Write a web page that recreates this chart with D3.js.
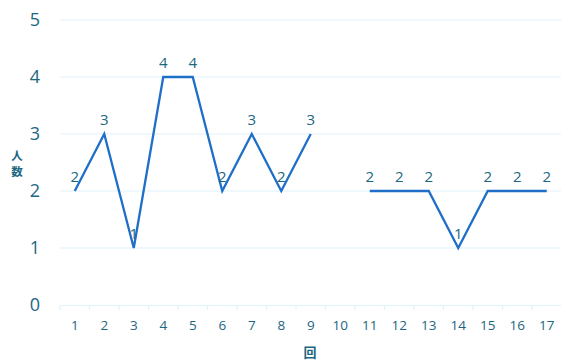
<!DOCTYPE html>
<html><head><meta charset="utf-8">
<script src="https://cdn.jsdelivr.net/npm/d3@7"></script>
<style>body{margin:0;background:#fff}svg{display:block}</style>
</head><body>
<svg id="c" width="561" height="360"></svg>
<script>
const categories = ["1","2","3","4","5","6","7","8","9","10","11","12","13","14","15","16","17"];
const values = [2,3,1,4,4,2,3,2,3,null,2,2,2,1,2,2,2];
const yTicks = [0,1,2,3,4,5];
const xTitle = "回";
const yTitle = ["人","数"];

const W=561,H=360,m={l:60,r:1,t:20,b:55};
const svg=d3.select("#c");
const font="'Open Sans','Noto Sans CJK JP',sans-serif";
const cjk="'Noto Sans CJK JP',sans-serif";
const textCol="#1c6680", lineCol="#1f6fc8", gridCol="#dff3fb";
const x=d3.scaleBand().domain(categories).range([m.l,561.5]);
const y=d3.scaleLinear().domain([0,5]).range([305,20]);

// grid
svg.append("g").selectAll("line").data(yTicks.filter(d=>d>0)).join("line")
 .attr("x1",m.l).attr("x2",W).attr("y1",d=>y(d)).attr("y2",d=>y(d))
 .attr("stroke",gridCol).attr("stroke-width",1.2);

// y axis
const ya=svg.append("g").attr("transform",`translate(${m.l},0)`)
 .call(d3.axisLeft(y).tickValues(yTicks).tickFormat(d3.format("d")).tickSize(0).tickPadding(20));
ya.select(".domain").remove();
ya.selectAll("text").attr("fill",textCol).attr("font-size",18).attr("font-family",font);

// x axis
const xa=svg.append("g").attr("transform",`translate(0,305)`)
 .call(d3.axisBottom(x).tickSize(0).tickPadding(15));
xa.select(".domain").attr("stroke",gridCol).attr("stroke-width",1.2);
xa.selectAll("text").attr("fill",textCol).attr("font-size",13.5).attr("font-family",font);
svg.append("g").selectAll("line").data(d3.range(categories.length+1)).join("line")
 .attr("x1",i=>m.l+i*x.step()).attr("x2",i=>m.l+i*x.step())
 .attr("y1",305).attr("y2",310).attr("stroke",gridCol).attr("stroke-width",1.2);

// line
const data=categories.map((c,i)=>({c,v:values[i]}));
const line=d3.line().defined(d=>d.v!=null).x(d=>x(d.c)+x.bandwidth()/2).y(d=>y(d.v));
svg.append("path").datum(data).attr("d",line).attr("fill","none")
 .attr("stroke",lineCol).attr("stroke-width",2.3).attr("stroke-linejoin","miter");

// labels
svg.append("g").selectAll("text").data(data.filter(d=>d.v!=null)).join("text")
 .attr("x",d=>x(d.c)+x.bandwidth()/2).attr("y",d=>y(d.v)-9)
 .attr("text-anchor","middle").attr("fill",textCol).attr("font-size",15).attr("font-family",font)
 .text(d=>d.v);

// titles
svg.append("text").attr("x",(m.l+560)/2).attr("y",357).attr("text-anchor","middle")
 .attr("fill",textCol).attr("font-size",13).attr("font-weight","bold").attr("font-family",cjk).text(xTitle);
svg.append("g").selectAll("text").data(yTitle).join("text")
 .attr("x",17).attr("y",(d,i)=>160+i*16).attr("text-anchor","middle")
 .attr("fill",textCol).attr("font-size",11.5).attr("font-weight","bold").attr("font-family",cjk).text(d=>d);
</script>
</body></html>
